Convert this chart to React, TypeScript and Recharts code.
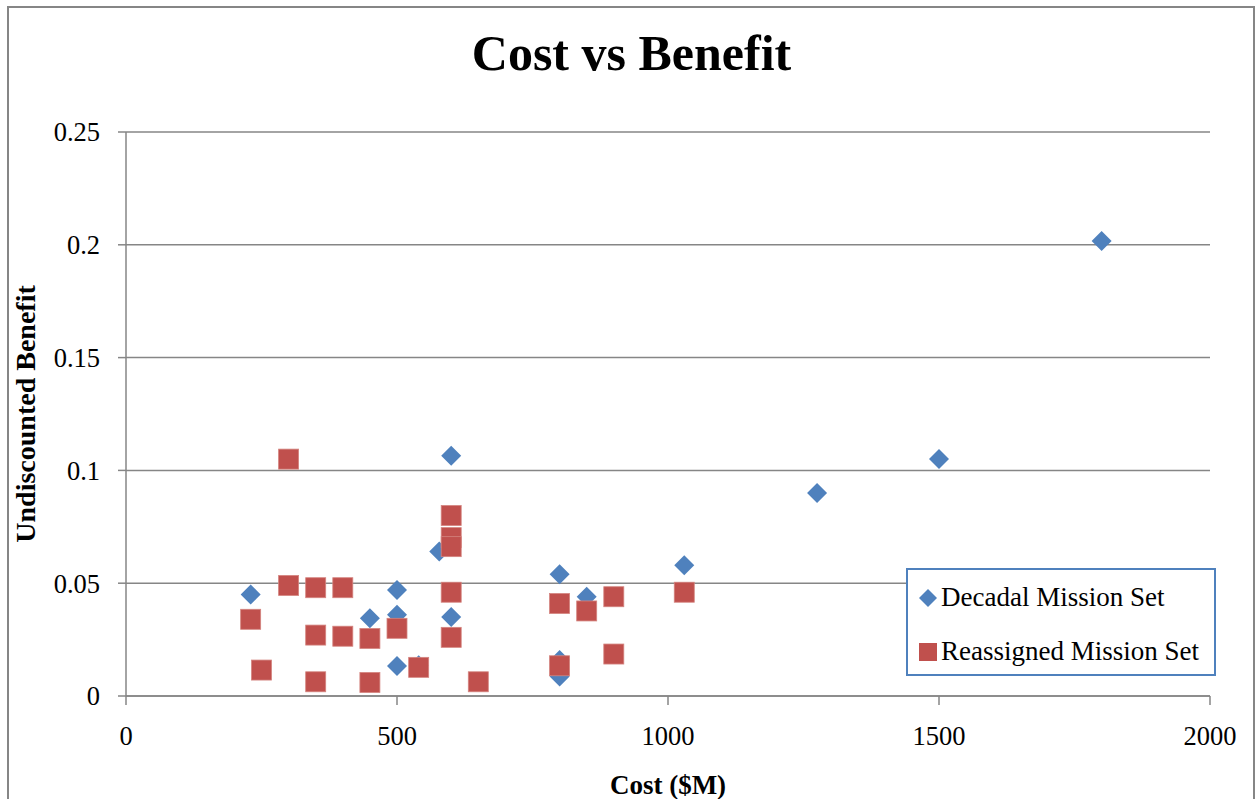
import {
  ScatterChart,
  Scatter,
  XAxis,
  YAxis,
  CartesianGrid,
  Legend,
} from "recharts";

const decadalCost = [230, 450, 500, 500, 500, 540, 578, 600, 600, 800, 800, 800, 850, 1030, 1275, 1500, 1800];
const decadalBenefit = [0.045, 0.0345, 0.047, 0.036, 0.0133, 0.0136, 0.064, 0.1065, 0.035, 0.054, 0.016, 0.0086, 0.044, 0.058, 0.09, 0.105, 0.2017];

const reassignedCost = [230, 250, 300, 300, 350, 350, 350, 400, 400, 450, 450, 500, 540, 600, 600, 600, 600, 600, 650, 800, 800, 850, 900, 900, 1030];
const reassignedBenefit = [0.034, 0.0115, 0.105, 0.049, 0.048, 0.027, 0.0063, 0.048, 0.0265, 0.0255, 0.006, 0.03, 0.0127, 0.08, 0.0702, 0.0662, 0.046, 0.026, 0.0063, 0.041, 0.0134, 0.0377, 0.044, 0.0186, 0.046];

const xTicks = [0, 500, 1000, 1500, 2000];
const yTicks = [0, 0.05, 0.1, 0.15, 0.2, 0.25];

const BLUE = "#4F81BD";
const RED = "#C0504D";
const GRAY = "#868686";
const FONT = "'Liberation Serif', serif";

const decadal = decadalCost.map((cost, i) => ({ cost, benefit: decadalBenefit[i] }));
const reassigned = reassignedCost.map((cost, i) => ({ cost, benefit: reassignedBenefit[i] }));

const Diamond = (props: any) => {
  const { cx, cy } = props;
  const r = 10;
  return (
    <polygon
      points={`${cx},${cy - r} ${cx + r},${cy} ${cx},${cy + r} ${cx - r},${cy}`}
      fill={BLUE}
    />
  );
};

const Square = (props: any) => {
  const { cx, cy } = props;
  return (
    <rect x={cx - 10} y={cy - 10} width={20} height={20} fill={RED} stroke="#D4847F" strokeWidth={0.8} />
  );
};

function LegendBox() {
  const row = { display: "flex", alignItems: "center", height: 27, fontSize: 27, fontFamily: FONT, color: "#000", whiteSpace: "nowrap" as const };
  return (
    <div
      style={{
        boxSizing: "border-box",
        width: 310,
        height: 108,
        border: `2px solid ${BLUE}`,
        background: "#fff",
        padding: "14px 0 0 9px",
      }}
    >
      <div style={row}>
        <svg width={24} height={20} style={{ marginRight: 0 }}>
          <polygon points="11,1 20,10 11,19 2,10" fill={BLUE} />
        </svg>
        <span>Decadal Mission Set</span>
      </div>
      <div style={{ ...row, marginTop: 27 }}>
        <svg width={24} height={20}>
          <rect x={2} y={1} width={18} height={18} fill={RED} />
        </svg>
        <span>Reassigned Mission Set</span>
      </div>
    </div>
  );
}

export default function App() {
  return (
    <div
      style={{
        position: "fixed",
        left: 0,
        top: 0,
        width: 1255,
        height: 799,
        overflow: "hidden",
        background: "#fff",
      }}
    >
      <div
        style={{
          position: "absolute",
          left: 7,
          top: 6,
          width: 1248,
          height: 830,
          boxSizing: "border-box",
          border: `2px solid ${GRAY}`,
        }}
      />
      <div
        style={{
          position: "absolute",
          left: 0,
          top: 28,
          width: 1263,
          textAlign: "center",
          fontFamily: FONT,
          fontWeight: "bold",
          fontSize: 50,
          lineHeight: "50px",
          color: "#000",
        }}
      >
        Cost vs Benefit
      </div>
      <div style={{ position: "absolute", left: 0, top: 0 }}>
        <ScatterChart
          width={1255}
          height={799}
          margin={{ top: 132, right: 45, bottom: 0, left: 0 }}
        >
          <CartesianGrid horizontal vertical={false} stroke={GRAY} strokeWidth={1.5} />
          <XAxis
            type="number"
            dataKey="cost"
            domain={[0, 2000]}
            ticks={xTicks}
            height={103}
            tickSize={9}
            tickMargin={21}
            axisLine={{ stroke: GRAY, strokeWidth: 1.5 }}
            tickLine={{ stroke: GRAY, strokeWidth: 1.5 }}
            tick={{ fill: "#000", fontSize: 26.5, fontFamily: FONT }}
            label={{
              value: "Cost ($M)",
              position: "insideBottom",
              offset: 5,
              style: { fill: "#000", fontSize: 27, fontWeight: "bold", fontFamily: FONT },
            }}
          />
          <YAxis
            type="number"
            dataKey="benefit"
            domain={[0, 0.25]}
            ticks={yTicks}
            width={126}
            tickSize={8}
            tickMargin={18}
            axisLine={{ stroke: GRAY, strokeWidth: 1.5 }}
            tickLine={{ stroke: GRAY, strokeWidth: 1.5 }}
            tick={{ fill: "#000", fontSize: 26.5, fontFamily: FONT }}
            label={{
              value: "Undiscounted Benefit",
              angle: -90,
              position: "insideLeft",
              offset: 25,
              style: { textAnchor: "middle", fill: "#000", fontSize: 28, fontWeight: "bold", fontFamily: FONT },
            }}
          />
          <Legend
            layout="vertical"
            align="center"
            verticalAlign="middle"
            wrapperStyle={{ left: 906, top: 568, width: 310, height: 108 }}
            content={() => <LegendBox />}
          />
          <Scatter
            name="Decadal Mission Set"
            data={decadal}
            fill={BLUE}
            shape={Diamond}
            isAnimationActive={false}
          />
          <Scatter
            name="Reassigned Mission Set"
            data={reassigned}
            fill={RED}
            shape={Square}
            isAnimationActive={false}
          />
        </ScatterChart>
      </div>
    </div>
  );
}
